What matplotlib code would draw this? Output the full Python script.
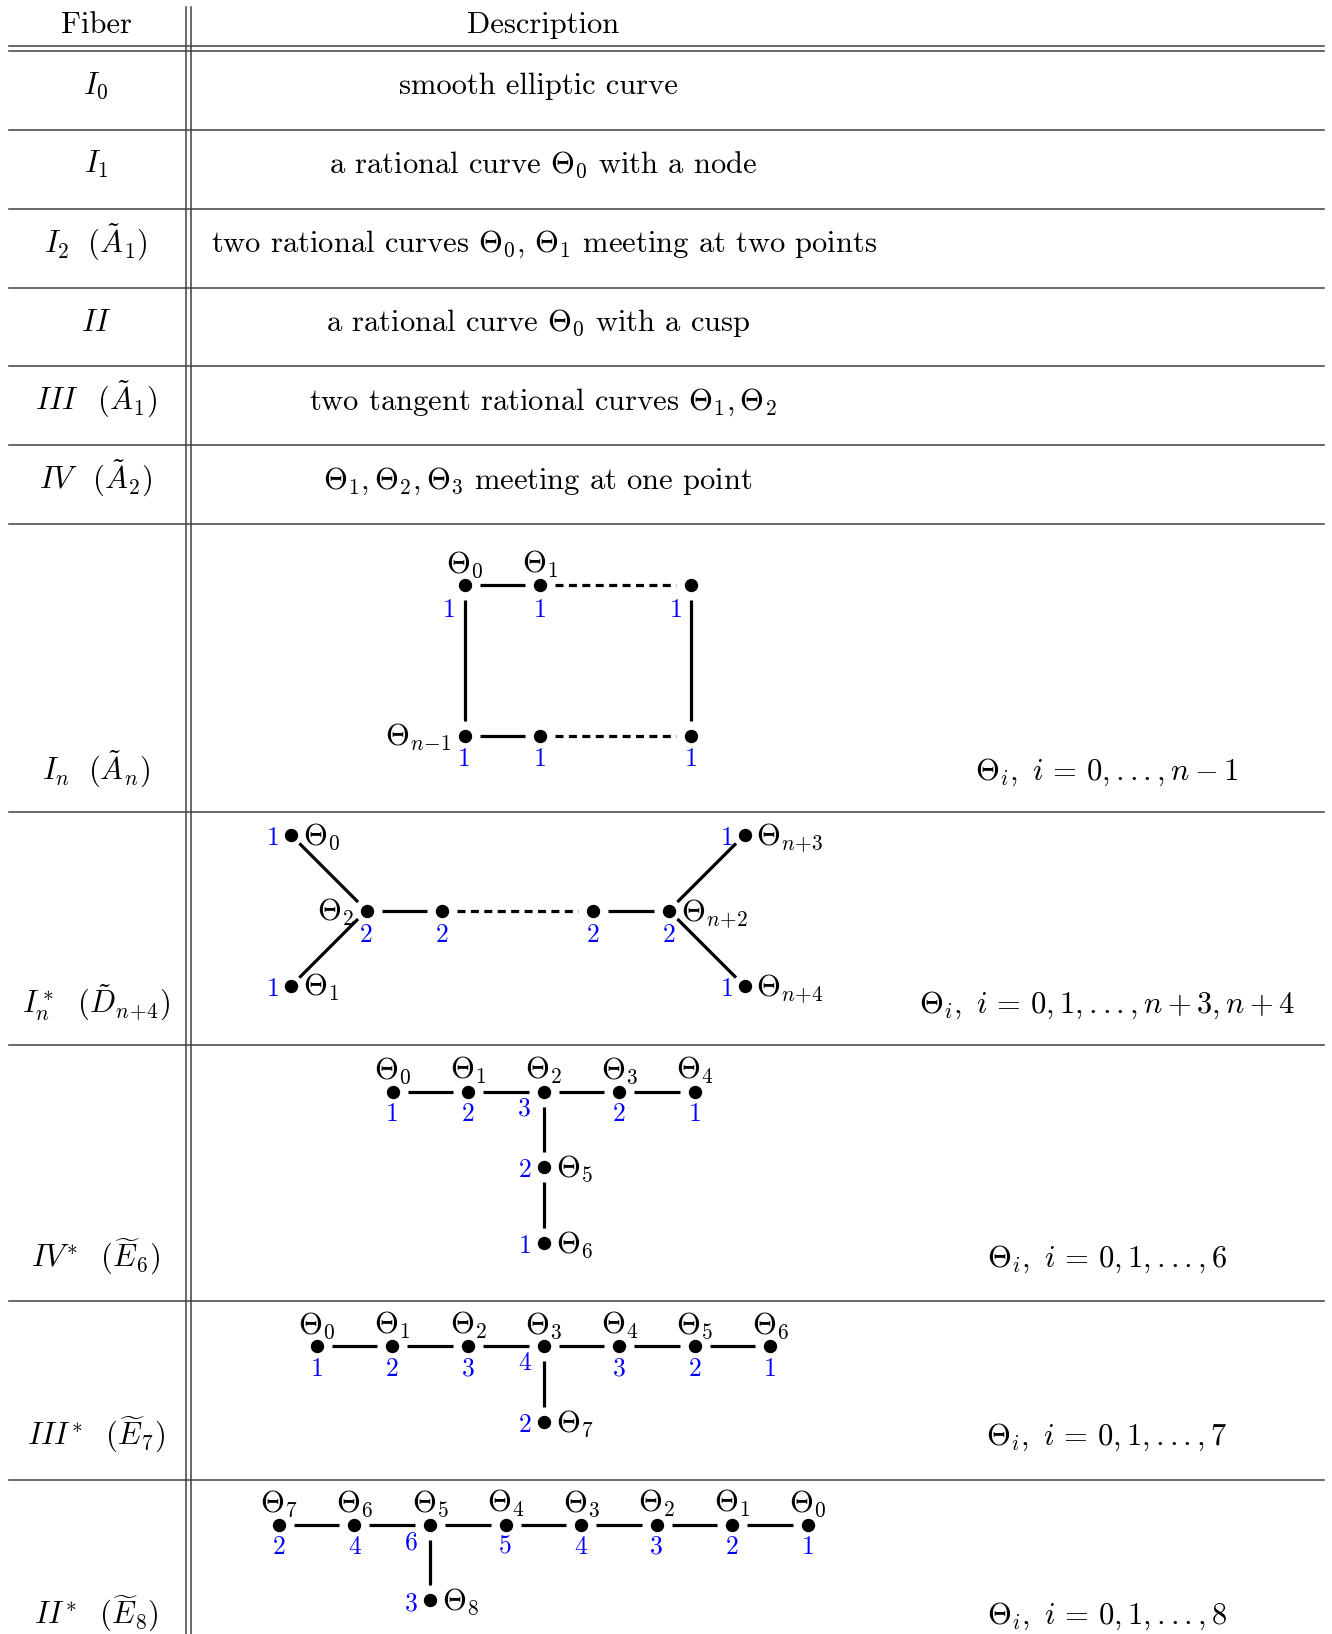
import matplotlib.pyplot as plt
import numpy as np

plt.rcParams['font.family'] = 'serif'
plt.rcParams['font.serif'] = ['cmr10']
plt.rcParams['mathtext.fontset'] = 'cm'
plt.rcParams['axes.unicode_minus'] = False

# ---- table text ----
header = ['Fiber', 'Description']
fiber_names = [r'$I_0$', r'$I_1$', r'$I_2\ \ (\tilde{A}_1)$', r'$II$',
               r'$III\ \ \,(\tilde{A}_1)$', r'$IV\ \ \,(\tilde{A}_2)$',
               r'$I_n\ \ (\tilde{A}_n)$', r'$I_n^*\ \ (\tilde{D}_{n\!+\!4})$',
               r'$IV^{\!*}\ \ (\widetilde{E}_6)$', r'$III^{\!*}\ \ (\widetilde{E}_7)$',
               r'$II^{\!*}\ \ (\widetilde{E}_8)$']
descriptions = ['smooth elliptic curve',
                r'a rational curve $\Theta_0$ with a node',
                r'two rational curves $\Theta_0$, $\Theta_1$ meeting at two points',
                r'a rational curve $\Theta_0$ with a cusp',
                r'two tangent rational curves $\Theta_1, \Theta_2$',
                r'$\Theta_1, \Theta_2, \Theta_3$ meeting at one point']
components = [r'$\Theta_i,\ i\,=\,0,...,n-1$',
              r'$\Theta_i,\ i\,=\,0,1,...,n+3,n+4$',
              r'$\Theta_i,\ i\,=\,0,1,...,6$',
              r'$\Theta_i,\ i\,=\,0,1,...,7$',
              r'$\Theta_i,\ i\,=\,0,1,...,8$']

# ---- dual graphs: component names and multiplicities ----
An_labels = [r'$\Theta_0$', r'$\Theta_1$', '', r'$\Theta_{n\!-\!1}$', '', '']
An_mult = [1, 1, 1, 1, 1, 1]

Dn_end_labels = [r'$\Theta_0$', r'$\Theta_1$', r'$\Theta_{n\!+\!3}$', r'$\Theta_{n\!+\!4}$']
Dn_end_mult = [1, 1, 1, 1]
Dn_chain_labels = [r'$\Theta_2$', '', '', r'$\Theta_{n\!+\!2}$']
Dn_chain_mult = [2, 2, 2, 2]

E6_chain = [r'$\Theta_0$', r'$\Theta_1$', r'$\Theta_2$', r'$\Theta_3$', r'$\Theta_4$']
E6_chain_mult = [1, 2, 3, 2, 1]
E6_branch = [r'$\Theta_5$', r'$\Theta_6$']
E6_branch_mult = [2, 1]

E7_chain = [r'$\Theta_0$', r'$\Theta_1$', r'$\Theta_2$', r'$\Theta_3$',
            r'$\Theta_4$', r'$\Theta_5$', r'$\Theta_6$']
E7_chain_mult = [1, 2, 3, 4, 3, 2, 1]
E7_branch = [r'$\Theta_7$']
E7_branch_mult = [2]

E8_chain = [r'$\Theta_7$', r'$\Theta_6$', r'$\Theta_5$', r'$\Theta_4$',
            r'$\Theta_3$', r'$\Theta_2$', r'$\Theta_1$', r'$\Theta_0$']
E8_chain_mult = [2, 4, 6, 5, 4, 3, 2, 1]
E8_branch = [r'$\Theta_8$']
E8_branch_mult = [3]

FS = 22
FS_NUM = 18.5
STEP = 75.6
LINE = '#404040'

fig = plt.figure(figsize=(13.32, 16.34), dpi=100)
ax = fig.add_axes([0, 0, 1, 1])
ax.set_xlim(0, 1332)
ax.set_ylim(1634, 0)
ax.axis('off')

# table rules
hlines = [46, 51, 130.3, 208.5, 287.7, 365.9, 445.1, 524.3, 812.0, 1045.4, 1300.8, 1480.1]
for y in hlines:
    ax.plot([8.5, 1323.6], [y, y], color=LINE, lw=1.1)
for x in [186, 190.5]:
    ax.plot([x, x], [6.5, 1634], color=LINE, lw=1.1)

ax.text(96, 33.3, header[0], ha='center', va='baseline', fontsize=FS)
ax.text(543.5, 33.3, header[1], ha='center', va='baseline', fontsize=FS)

baselines = [94.3, 173.3, 252.3, 331.4, 409.6, 488.8, 780, 1013, 1267, 1445, 1624]
desc_x = [538, 543.6, 544.6, 538, 543, 538]
for name, yb in zip(fiber_names, baselines):
    ax.text(96, yb, name, ha='center', va='baseline', fontsize=FS)
for d, xc, yb in zip(descriptions, desc_x, baselines[:6]):
    ax.text(xc, yb, d, ha='center', va='baseline', fontsize=FS)
for c, yb in zip(components, baselines[6:]):
    ax.text(1107, yb, c, ha='center', va='baseline', fontsize=FS)


def node(p):
    ax.plot([p[0]], [p[1]], 'o', color='black', ms=8.6, zorder=3)


def edge(p, q, dashed=False, gap=15):
    (x1, y1), (x2, y2) = p, q
    d = np.hypot(x2 - x1, y2 - y1)
    ux, uy = (x2 - x1) / d, (y2 - y1) / d
    ls = (0, (2.5, 1.7)) if dashed else '-'
    ax.plot([x1 + ux * gap, x2 - ux * gap], [y1 + uy * gap, y2 - uy * gap],
            color='black', lw=2.3, ls=ls, solid_capstyle='butt', dash_capstyle='butt')


def name_above(p, s):
    ax.text(p[0], p[1] - 12.5, s, ha='center', va='baseline', fontsize=FS)


def name_side(p, s, right=True):
    if right:
        ax.text(p[0] + 12, p[1] + 10, s, ha='left', va='baseline', fontsize=FS)
    else:
        ax.text(p[0] - 12.5, p[1] + 10, s, ha='right', va='baseline', fontsize=FS)


def mult_below(p, m, dx=0, dy=30):
    ax.text(p[0] + dx, p[1] + dy, str(m), color='blue', ha='center', va='baseline', fontsize=FS_NUM)


def mult_left(p, m):
    ax.text(p[0] - 18.5, p[1] + 10, str(m), color='blue', ha='center', va='baseline', fontsize=FS_NUM)


# I_n : cycle of n components
x0, y0 = 464.5, 585
cols = [0, 1, 3]
pts = [(x0 + c * STEP, y0) for c in cols] + [(x0 + c * STEP, y0 + 2 * STEP) for c in cols]
for p in pts:
    node(p)
for r in (0, 3):
    edge(pts[r], pts[r + 1])
    edge(pts[r + 1], pts[r + 2], dashed=True)
edge(pts[0], pts[3])
edge(pts[2], pts[5])
name_above(pts[0], An_labels[0])
name_above(pts[1], An_labels[1])
name_side(pts[3], An_labels[3], right=False)
for i, p in enumerate(pts):
    dx = -15 if i in (0, 2) else 0
    mult_below(p, An_mult[i], dx=dx, dy=31.5 if i < 3 else 29.5)

# I_n^* : D~_{n+4}
x0, y0 = 366.5, 910.5
chain = [(x0 + c * STEP, y0) for c in [0, 1, 3, 4]]
ends = [(chain[0][0] - STEP, y0 - STEP), (chain[0][0] - STEP, y0 + STEP),
        (chain[3][0] + STEP, y0 - STEP), (chain[3][0] + STEP, y0 + STEP)]
for p in chain + ends:
    node(p)
edge(chain[0], chain[1])
edge(chain[1], chain[2], dashed=True)
edge(chain[2], chain[3])
for k, e in enumerate(ends):
    edge(e, chain[0] if k < 2 else chain[3], gap=12)
    name_side(e, Dn_end_labels[k])
    ax.text(e[0] - 17.5, e[1] + 10, str(Dn_end_mult[k]), color='blue',
            ha='center', va='baseline', fontsize=FS_NUM)
for k, p in enumerate(chain):
    mult_below(p, Dn_chain_mult[k], dy=31.5)
name_side(chain[0], Dn_chain_labels[0], right=False)
name_side(chain[3], Dn_chain_labels[3])


def e_diagram(x0, y0, chain_lab, chain_mult, branch_at, br_lab, br_mult, dx_c, dy_c):
    cp = [(x0 + i * STEP, y0) for i in range(len(chain_lab))]
    bx = cp[branch_at][0]
    bp = [(bx, y0 + (k + 1) * STEP) for k in range(len(br_lab))]
    for p in cp + bp:
        node(p)
    for a, b in zip(cp[:-1], cp[1:]):
        edge(a, b)
    prev = cp[branch_at]
    for p in bp:
        edge(prev, p)
        prev = p
    for i, p in enumerate(cp):
        name_above(p, chain_lab[i])
        if i == branch_at:
            mult_below(p, chain_mult[i], dx=dx_c, dy=dy_c)
        else:
            mult_below(p, chain_mult[i], dy=29.5)
    for k, p in enumerate(bp):
        name_side(p, br_lab[k])
        mult_left(p, br_mult[k])


e_diagram(392.5, 1091.5, E6_chain, E6_chain_mult, 2, E6_branch, E6_branch_mult, -19, 24.5)
e_diagram(316.7, 1346.0, E7_chain, E7_chain_mult, 3, E7_branch, E7_branch_mult, -19, 24.5)
e_diagram(278.7, 1524.5, E8_chain, E8_chain_mult, 2, E8_branch, E8_branch_mult, -18.5, 25.5)

fig.savefig('out.png', dpi=100)
